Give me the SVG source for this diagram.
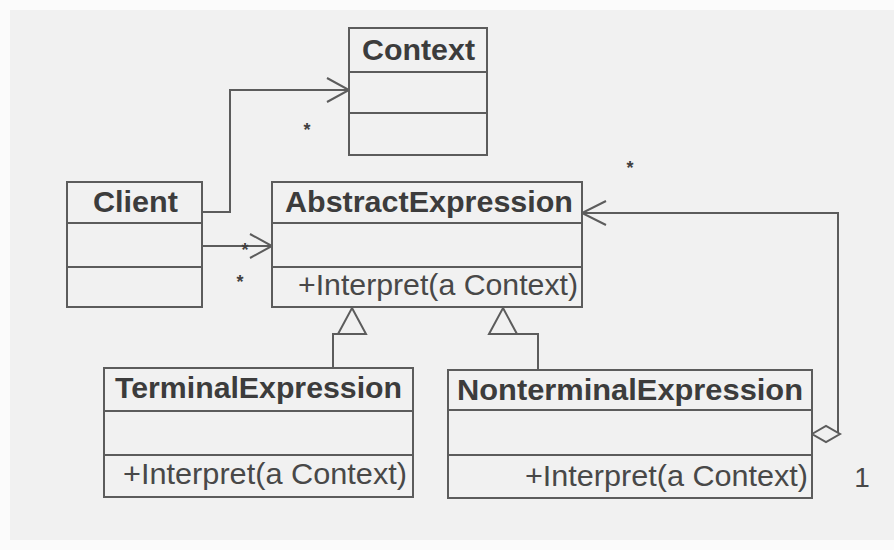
<svg xmlns="http://www.w3.org/2000/svg" width="894" height="550" viewBox="0 0 894 550">
  <style>
    .box { fill: #f1f1f1; stroke: #5c5c5c; stroke-width: 2; }
    .sep { stroke: #5c5c5c; stroke-width: 2; fill: none; }
    .title { font-family: "Liberation Sans", Arial, sans-serif; font-weight: bold; font-size: 30px; fill: #3c3c3c; }
    .op { font-family: "Liberation Sans", Arial, sans-serif; font-size: 30px; fill: #484848; }
    .mult { font-family: "Liberation Sans", Arial, sans-serif; font-size: 18px; font-weight: bold; fill: #404040; text-anchor: middle; }
    .num { font-family: "Liberation Sans", Arial, sans-serif; font-size: 28px; fill: #484848; text-anchor: middle; }
    .edge { fill: none; stroke: #5c5c5c; stroke-width: 2; }
    .head { fill: none; stroke: #5c5c5c; stroke-width: 2; stroke-linejoin: miter; }
    .hollow { fill: #f1f1f1; stroke: #5c5c5c; stroke-width: 2; }
  </style>

  <!-- page -->
  <rect x="0" y="0" width="894" height="550" fill="#fbfbfb"/>
  <rect x="10" y="10" width="884" height="530" fill="#f1f1f1"/>

  <!-- connectors -->
  <g id="connectors">
    <!-- Client to Context association -->
    <path class="edge" d="M202,212 H230 V90 H349"/>
    <path class="head" d="M327,78 L349,90 L327,102"/>
    <text class="mult" x="307" y="136">*</text>

    <!-- Client to AbstractExpression association -->
    <path class="edge" d="M202,246 H272"/>
    <path class="head" d="M250,234 L272,246 L250,258"/>
    <text class="mult" x="245" y="256">*</text>
    <text class="mult" x="240" y="288">*</text>

    <!-- TerminalExpression generalization -->
    <path class="edge" d="M333,368 V334 H352"/>
    <path class="hollow" d="M352,308 L366,334 L338,334 Z"/>

    <!-- NonterminalExpression generalization -->
    <path class="edge" d="M538,370 V334 H503"/>
    <path class="hollow" d="M503,308 L517,334 L489,334 Z"/>

    <!-- NonterminalExpression aggregates AbstractExpression -->
    <path class="edge" d="M838,434 V213 H582"/>
    <path class="head" d="M606,201 L582,213 L606,225"/>
    <path class="hollow" d="M812,434 L826,426 L840,434 L826,442 Z"/>
    <text class="mult" x="630" y="174">*</text>
    <text class="num" x="862" y="487">1</text>
  </g>

  <!-- classes -->
  <g id="context">
    <rect class="box" x="349" y="28" width="138" height="127"/>
    <line class="sep" x1="349" y1="72" x2="487" y2="72"/>
    <line class="sep" x1="349" y1="113" x2="487" y2="113"/>
    <text class="title" x="362" y="60" textLength="113" lengthAdjust="spacingAndGlyphs">Context</text>
  </g>

  <g id="client">
    <rect class="box" x="67" y="182" width="135" height="125"/>
    <line class="sep" x1="67" y1="223" x2="202" y2="223"/>
    <line class="sep" x1="67" y1="267" x2="202" y2="267"/>
    <text class="title" x="93" y="212" textLength="85" lengthAdjust="spacingAndGlyphs">Client</text>
  </g>

  <g id="abstract-expression">
    <rect class="box" x="272" y="182" width="310" height="125"/>
    <line class="sep" x1="272" y1="223" x2="582" y2="223"/>
    <line class="sep" x1="272" y1="267" x2="582" y2="267"/>
    <text class="title" x="285" y="212" textLength="288" lengthAdjust="spacingAndGlyphs">AbstractExpression</text>
    <text class="op" x="298" y="295" textLength="280" lengthAdjust="spacingAndGlyphs">+Interpret(a Context)</text>
  </g>

  <g id="terminal-expression">
    <rect class="box" x="104" y="368" width="309" height="129"/>
    <line class="sep" x1="104" y1="411" x2="413" y2="411"/>
    <line class="sep" x1="104" y1="455" x2="413" y2="455"/>
    <text class="title" x="115" y="398" textLength="287" lengthAdjust="spacingAndGlyphs">TerminalExpression</text>
    <text class="op" x="123" y="484" textLength="284" lengthAdjust="spacingAndGlyphs">+Interpret(a Context)</text>
  </g>

  <g id="nonterminal-expression">
    <rect class="box" x="448" y="370" width="364" height="128"/>
    <line class="sep" x1="448" y1="410" x2="812" y2="410"/>
    <line class="sep" x1="448" y1="455" x2="812" y2="455"/>
    <text class="title" x="457" y="400" textLength="346" lengthAdjust="spacingAndGlyphs">NonterminalExpression</text>
    <text class="op" x="525" y="486" textLength="283" lengthAdjust="spacingAndGlyphs">+Interpret(a Context)</text>
  </g>
</svg>
